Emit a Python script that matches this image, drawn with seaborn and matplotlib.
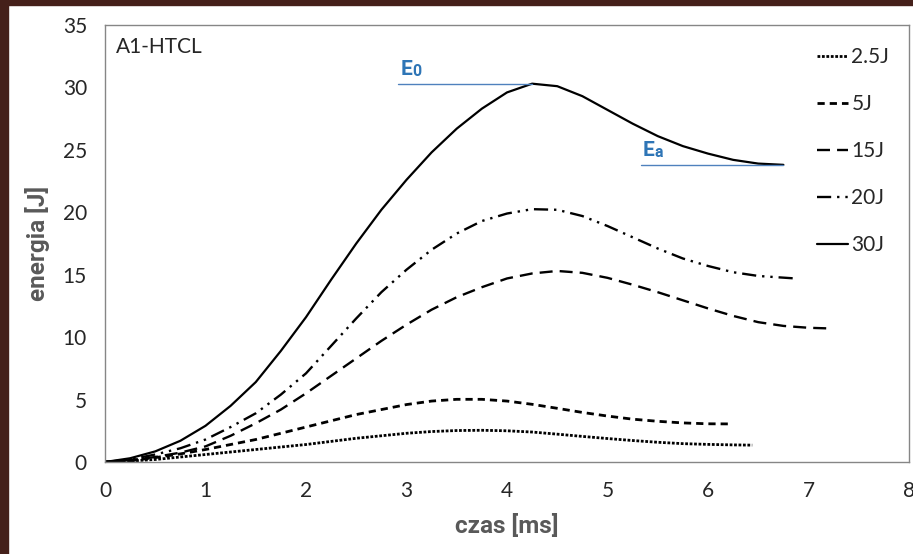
import numpy as np
import pandas as pd
import matplotlib
matplotlib.use("Agg")
import matplotlib.pyplot as plt
import seaborn as sns
from matplotlib.patches import Rectangle

# ---- data ----
x_30 = [0, 0.25, 0.5, 0.75, 1.0, 1.25, 1.5, 1.75, 2.0, 2.25, 2.5, 2.75, 3.0, 3.25, 3.5, 3.75, 4.0, 4.25,
        4.5, 4.75, 5.0, 5.25, 5.5, 5.75, 6.0, 6.25, 6.5, 6.75]
y_30 = [0, 0.3, 0.85, 1.7, 2.9, 4.5, 6.4, 8.9, 11.6, 14.6, 17.5, 20.2, 22.6, 24.8, 26.7, 28.3, 29.6, 30.3,
        30.1, 29.3, 28.2, 27.1, 26.1, 25.3, 24.7, 24.2, 23.9, 23.8]

x_20 = [0, 0.25, 0.5, 0.75, 1.0, 1.25, 1.5, 1.75, 2.0, 2.25, 2.5, 2.75, 3.0, 3.25, 3.5, 3.75, 4.0, 4.25,
        4.5, 4.75, 5.0, 5.25, 5.5, 5.75, 6.0, 6.25, 6.5, 6.87]
y_20 = [0, 0.2, 0.6, 1.1, 1.8, 2.8, 3.9, 5.4, 7.1, 9.3, 11.5, 13.6, 15.4, 17.0, 18.3, 19.3, 19.9, 20.25,
        20.2, 19.7, 18.9, 18.0, 17.1, 16.3, 15.7, 15.2, 14.9, 14.7]

x_15 = [0, 0.25, 0.5, 0.75, 1.0, 1.25, 1.5, 1.75, 2.0, 2.25, 2.5, 2.75, 3.0, 3.25, 3.5, 3.75, 4.0, 4.25,
        4.5, 4.75, 5.0, 5.25, 5.5, 5.75, 6.0, 6.25, 6.5, 6.75, 7.0, 7.2]
y_15 = [0, 0.15, 0.4, 0.75, 1.25, 2.1, 3.1, 4.2, 5.5, 6.9, 8.3, 9.7, 11.0, 12.2, 13.2, 14.0, 14.7, 15.1,
        15.3, 15.15, 14.75, 14.2, 13.6, 12.95, 12.3, 11.7, 11.2, 10.9, 10.75, 10.7]

x_5 = [0, 0.25, 0.5, 0.75, 1.0, 1.25, 1.5, 1.75, 2.0, 2.25, 2.5, 2.75, 3.0, 3.25, 3.5, 3.75, 4.0, 4.25,
       4.5, 4.75, 5.0, 5.25, 5.5, 5.75, 6.0, 6.22]
y_5 = [0, 0.1, 0.35, 0.65, 1.0, 1.4, 1.8, 2.3, 2.8, 3.3, 3.8, 4.2, 4.6, 4.88, 5.02, 5.02, 4.88, 4.62,
       4.3, 3.97, 3.68, 3.43, 3.26, 3.13, 3.06, 3.05]

x_25 = [0, 0.25, 0.5, 0.75, 1.0, 1.25, 1.5, 1.75, 2.0, 2.25, 2.5, 2.75, 3.0, 3.25, 3.5, 3.75, 4.0, 4.25,
        4.5, 4.75, 5.0, 5.25, 5.5, 5.75, 6.0, 6.25, 6.44]
y_25 = [0, 0.08, 0.2, 0.4, 0.6, 0.8, 1.0, 1.2, 1.4, 1.65, 1.9, 2.1, 2.3, 2.44, 2.52, 2.54, 2.5, 2.4,
        2.23, 2.05, 1.88, 1.72, 1.58, 1.47, 1.41, 1.37, 1.35]

labels = ["2.5J", "5J", "15J", "20J", "30J"]
series_x = [x_25, x_5, x_15, x_20, x_30]
series_y = [y_25, y_5, y_15, y_20, y_30]

x_ticks = [0, 1, 2, 3, 4, 5, 6, 7, 8]
y_ticks = [0, 5, 10, 15, 20, 25, 30, 35]

title_text = "A1-HTCL"
x_label = "czas [ms]"
y_label = "energia [J]"
E0_line_start = 2.92   # annotation line start (x)
Ea_line_start = 5.33

# ---- styles ----
styles = {
    "2.5J": dict(linestyle=(0, (1.0, 0.6)), lw=2.0),
    "5J": dict(linestyle=(0, (2.6, 1.8)), lw=2.0),
    "15J": dict(linestyle=(0, (5.5, 3.0)), lw=1.7),
    "20J": dict(linestyle=(0, (6.0, 2.5, 1.0, 2.5, 1.0, 2.5)), lw=1.7),
    "30J": dict(linestyle="-", lw=1.6),
}

rows = []
for lab, xs, ys in zip(labels, series_x, series_y):
    for xv, yv in zip(xs, ys):
        rows.append({"series": lab, "czas": xv, "energia": yv})
df = pd.DataFrame(rows)

sns.set_theme(style="white")
plt.rcParams["font.family"] = ["Lato", "DejaVu Sans"]
plt.rcParams["lines.solid_joinstyle"] = "round"
plt.rcParams["lines.dash_joinstyle"] = "round"
label_font = ["Roboto", "DejaVu Sans"]

W, H = 913, 554
fig = plt.figure(figsize=(W / 100, H / 100), dpi=100, facecolor="white")
ax = fig.add_axes([105 / W, 1 - 462 / H, 804 / W, 437 / H])

# brown border strips
brown = "#45201a"
fig.patches.append(Rectangle((0, 0), 8 / W, 1, transform=fig.transFigure, color=brown, zorder=0))
fig.patches.append(Rectangle((0, 1 - 5 / H), 1, 5 / H, transform=fig.transFigure, color=brown, zorder=0))

handles = []
for lab in labels:
    sub = df[df["series"] == lab]
    sns.lineplot(data=sub, x="czas", y="energia", ax=ax, color="black",
                 sort=False, estimator=None, **styles[lab])
    handles.append(ax.lines[-1])

ax.set_xlim(0, 8)
ax.set_ylim(0, 35)
ax.set_xticks(x_ticks)
ax.set_yticks(y_ticks)
ax.tick_params(axis="both", direction="out", length=6, width=1, color="#868686",
               labelsize=15, labelcolor="#262626")
ax.tick_params(axis="y", pad=7)
ax.tick_params(axis="x", pad=8)
for sp in ax.spines.values():
    sp.set_color("#868686")
    sp.set_linewidth(1.0)

ax.set_xlabel(x_label, fontsize=17.5, fontweight="bold", color="#595959",
              family=label_font, labelpad=9)
ax.set_ylabel(y_label, fontsize=17.5, fontweight="bold", color="#595959",
              family=label_font, labelpad=9)

ax.text(11 / 804, 1 - 22 / 437, title_text, transform=ax.transAxes, fontsize=15,
        color="#262626", va="center", ha="left")

# annotations E0 / Ea
E0 = max(y_30)
E0_x = x_30[int(np.argmax(y_30))]
Ea = y_30[-1]
Ea_x = x_30[-1]
blue = "#2e75b6"
ax.plot([E0_line_start, E0_x], [E0, E0], color="#4f81bd", lw=1.0)
ax.plot([Ea_line_start, Ea_x], [Ea, Ea], color="#4f81bd", lw=1.0)
for xs0, yv, sub_t in [(E0_line_start, E0, "0"), (Ea_line_start, Ea, "a")]:
    ax.text(xs0 + 0.02, yv + 0.35, "E", color=blue, fontsize=15, fontweight="bold",
            family=label_font, va="bottom", ha="left")
    ax.text(xs0 + 0.14, yv + 0.35, sub_t, color=blue, fontsize=11.5, fontweight="bold",
            family=label_font, va="bottom", ha="left")

leg = ax.legend(handles, labels, loc="upper left",
                bbox_to_anchor=((817 - 105) / 804, (462 - 47) / 437),
                frameon=False, fontsize=15, handlelength=1.5, handletextpad=0.15,
                labelspacing=1.3, borderaxespad=0, borderpad=0)
for t in leg.get_texts():
    t.set_color("#262626")

fig.savefig("out.png", dpi=100, facecolor="white")
